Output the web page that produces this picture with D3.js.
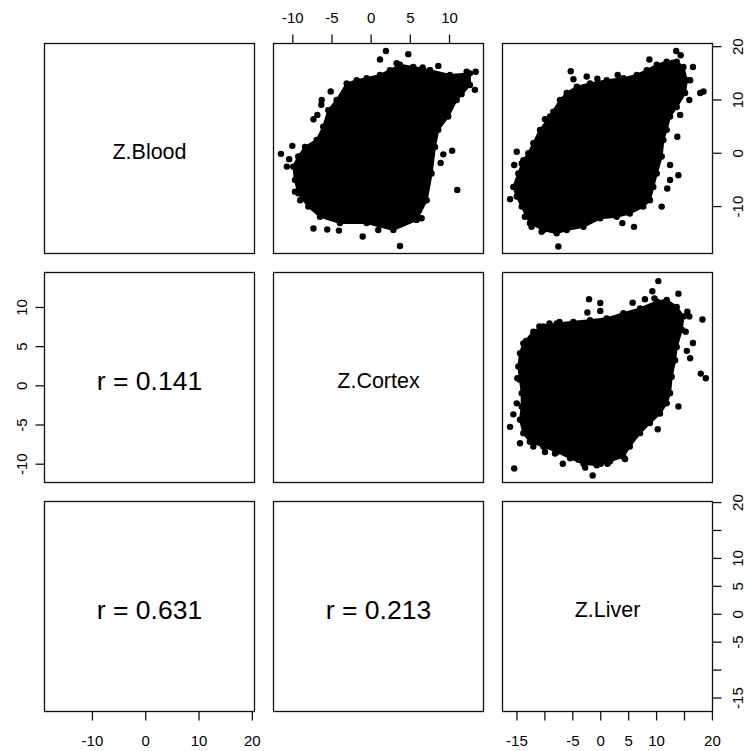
<!DOCTYPE html>
<html>
<head>
<meta charset="utf-8">
<script src="https://cdn.jsdelivr.net/npm/d3@7"></script>
<style>
  body { margin: 0; background: #fff; }
  text { font-family: "Liberation Sans", Arial, Helvetica, sans-serif; fill: #000; }
</style>
</head>
<body>
<div id="pairs"></div>
<script>
// Variables shown on the diagonal and their axis ranges
var varNames = ["Z.Blood", "Z.Cortex", "Z.Liver"];
var varDomains = [[-18.9, 20.5], [-12.4, 14.4], [-17.5, 20.1]];
var varTicks = [[-10, 0, 10, 20], [-10, -5, 0, 5, 10], [-15, -10, -5, 0, 5, 10, 15, 20]];
var varTickLabels = [["-10", "0", "10", "20"], ["-10", "-5", "0", "5", "10"],
                     ["-15", "", "-5", "0", "5", "10", "", "20"]];

// Lower panels: correlation text [row, col, r]
var corRows = [1, 2, 2];
var corCols = [0, 0, 1];
var corValues = [0.141, 0.631, 0.213];

// Upper panels: dense core outline + edge points, [x, y] in data units
// row 0, col 1 : x = Z.Cortex, y = Z.Blood
var cortexBloodCore = [[-3.06,13.0],[-4.34,9.9],[-5.41,8.0],[-6.05,4.9],[-6.89,2.4],[-8.38,1.1],[-9.24,-0.7],
  [-9.88,-2.6],[-9.66,-5.1],[-9.24,-7.6],[-7.96,-10.1],[-6.47,-12.0],[-3.92,-13.2],[-0.51,-13.2],[2.89,-14.5],
  [5.87,-12.6],[7.15,-8.9],[7.78,-3.9],[8.21,1.1],[8.63,4.3],[9.9,6.8],[10.97,9.9],[12.67,12.7],[12.67,14.9],
  [10.12,14.6],[7.57,15.5],[5.44,16.1],[3.74,16.5],[2.46,15.5],[1.19,14.6],[-0.51,14.0],[-1.79,13.6]];
var cortexBloodPts = [[1.95,19.1],[4.8,18.5],[1.19,17.5],[3.32,16.8],[6.64,16.0],[7.57,15.5],[8.63,16.3],
  [12.25,15.2],[13.4,15.2],[13.3,11.8],[11.6,11.0],[-5.1,11.5],[-6.25,9.9],[-6.3,9.0],[-7.3,6.3],[-6.8,7.1],
  [-10.0,1.3],[-11.45,-0.2],[-10.4,-1.2],[10.4,0.4],[9.27,-0.3],[8.93,-1.9],[11.05,-7.0],[-7.3,-14.2],
  [-5.54,-14.4],[-4.05,-14.6],[-1.02,-15.7],[3.74,-17.5],[6.5,-12.3],[0.97,-14.5],[-10.7,-2.6],[-9.66,-7.3],
  [-9.0,-8.9]];

// row 0, col 2 : x = Z.Liver, y = Z.Blood
var liverBloodCore = [[-11.98,1.8],[-10.78,4.3],[-8.99,6.8],[-7.2,9.9],[-6.0,11.2],[-4.2,12.4],[-1.83,13.0],
  [1.16,13.6],[4.14,14.0],[6.54,14.6],[8.33,15.5],[10.12,16.5],[11.9,17.1],[13.7,17.1],[14.9,16.1],[15.5,13.6],
  [15.2,11.2],[13.7,8.6],[12.5,6.8],[11.9,4.3],[11.3,2.4],[11.0,-0.7],[10.12,-3.9],[9.5,-6.4],[8.9,-8.9],
  [7.7,-10.1],[5.3,-11.4],[2.95,-12.0],[0.0,-12.3],[-3.0,-13.9],[-6.0,-14.5],[-7.8,-15.1],[-10.2,-14.5],
  [-12.6,-13.2],[-14.06,-10.1],[-14.95,-8.2],[-15.56,-6.4],[-14.66,-3.9],[-13.77,-1.4],[-12.87,-0.1]];
var liverBloodPts = [[-5.28,15.3],[-4.8,13.8],[-2.42,14.3],[-0.52,13.9],[3.13,14.6],[8.8,17.5],[13.0,16.9],
  [13.6,19.1],[14.4,18.3],[16.6,16.1],[16.1,13.6],[18.5,11.5],[17.9,11.2],[15.95,9.9],[14.3,7.1],[13.8,3.0],
  [14.0,-4.2],[12.5,-2.3],[12.5,-5.1],[12.0,-6.7],[11.0,-10.1],[-14.95,0.2],[-15.4,-2.3],[-14.06,-2.0],
  [-16.15,-8.7],[-13.5,-12.0],[-12.3,-13.9],[-10.5,-14.8],[-7.5,-17.6],[3.96,-13.2],[6.05,-13.9],
  [-9.9,6.3],[-10.78,3.3],[-8.4,7.7],[-7.07,8.5]];

// row 1, col 2 : x = Z.Liver, y = Z.Cortex
var liverCortexCore = [[-13.77,5.36],[-11.98,6.85],[-10.19,7.5],[-7.79,7.9],[-4.82,8.1],[-1.83,8.3],[1.16,8.55],
  [4.14,9.2],[7.13,9.8],[10.12,10.7],[11.9,10.9],[13.7,10.0],[14.9,8.8],[14.6,7.1],[13.7,4.9],[13.4,3.2],
  [12.8,1.1],[12.5,-1.0],[11.9,-2.3],[10.7,-3.6],[8.9,-4.8],[7.13,-6.1],[5.3,-7.8],[4.14,-9.1],[1.75,-9.7],
  [-0.63,-10.2],[-3.0,-10.0],[-5.4,-9.3],[-7.79,-8.5],[-10.19,-7.8],[-12.6,-7.2],[-13.77,-6.1],[-14.36,-4.4],
  [-14.06,-2.7],[-14.06,-1.0],[-14.36,0.7],[-14.66,2.4],[-14.36,4.1]];
var liverCortexPts = [[-2.0,11.0],[0.0,10.5],[-2.3,9.3],[0.0,9.5],[5.8,10.55],[10.4,13.3],[9.33,12.0],
  [9.7,11.1],[8.0,11.0],[14.0,11.7],[15.6,9.4],[15.95,8.8],[18.3,8.4],[15.3,6.85],[16.6,5.4],[15.5,4.4],
  [16.1,3.45],[18.0,1.5],[18.9,0.9],[14.0,-2.7],[10.3,-5.6],[-13.3,5.66],[-12.45,5.8],[-10.9,7.5],[-9.1,7.9],
  [-7.3,8.1],[-14.84,0.9],[-14.95,-2.3],[-15.56,-3.7],[-16.15,-5.3],[-14.36,-7.4],[-11.98,-7.8],[-9.9,-8.5],
  [-8.1,-8.7],[-6.7,-10.0],[-15.4,-10.6],[-3.9,-9.5],[-1.35,-11.5],[0.1,-10.0],[4.44,-9.4],[-2.7,-10.5],
  [1.3,-10.0]];

var scatterRows = [0, 0, 1];
var scatterCols = [1, 2, 2];
var scatterCores = [cortexBloodCore, liverBloodCore, liverCortexCore];
var scatterPts = [cortexBloodPts, liverBloodPts, liverCortexPts];

// Layout
var svgWidth = 749;
var svgHeight = 751;
var panelLeft = 44.5;
var panelTop = 43.5;
var panelSize = 210;
var panelGap = 19;
var tickLen = 9;

var svg = d3.select("#pairs")
  .append("svg")
  .attr("width", svgWidth)
  .attr("height", svgHeight);

function colX(j) { return panelLeft + j * (panelSize + panelGap); }
function rowY(i) { return panelTop + i * (panelSize + panelGap); }

function xScaleFor(j) {
  return d3.scaleLinear().domain(varDomains[j]).range([colX(j), colX(j) + panelSize]);
}
function yScaleFor(i) {
  return d3.scaleLinear().domain(varDomains[i]).range([rowY(i) + panelSize, rowY(i)]);
}

// Scatter panels
scatterRows.forEach(function(i, k) {
  var j = scatterCols[k];
  var x = xScaleFor(j);
  var y = yScaleFor(i);
  var g = svg.append("g");

  var line = d3.line()
    .x(d => x(d[0]))
    .y(d => y(d[1]))
    .curve(d3.curveLinearClosed);

  g.append("path")
    .attr("d", line(scatterCores[k]))
    .attr("fill", "#000")
    .attr("stroke", "#000")
    .attr("stroke-width", 2);

  g.selectAll("circle.edge")
    .data(scatterCores[k].concat(scatterPts[k]))
    .enter()
    .append("circle")
    .attr("cx", d => x(d[0]))
    .attr("cy", d => y(d[1]))
    .attr("r", 3.2)
    .attr("fill", "#000");
});

// Diagonal labels
varNames.forEach(function(name, i) {
  svg.append("text")
    .attr("x", colX(i) + panelSize / 2)
    .attr("y", rowY(i) + panelSize / 2 + 3)
    .attr("text-anchor", "middle")
    .attr("dominant-baseline", "central")
    .style("font-size", "21.5px")
    .text(name);
});

// Correlation text
corValues.forEach(function(r, k) {
  svg.append("text")
    .attr("x", colX(corCols[k]) + panelSize / 2)
    .attr("y", rowY(corRows[k]) + panelSize / 2 + 3)
    .attr("text-anchor", "middle")
    .attr("dominant-baseline", "central")
    .style("font-size", "26.5px")
    .text("r = " + r.toFixed(3));
});

// Panel boxes
for (var i = 0; i < 3; i++) {
  for (var j = 0; j < 3; j++) {
    svg.append("rect")
      .attr("x", colX(j))
      .attr("y", rowY(i))
      .attr("width", panelSize)
      .attr("height", panelSize)
      .attr("fill", "none")
      .attr("stroke", "#111")
      .attr("stroke-width", 1.3);
  }
}

// Axes, alternating sides like R's pairs()
function styleAxis(g) {
  g.select(".domain").remove();
  g.selectAll("line").attr("stroke", "#111").attr("stroke-width", 1.3);
  g.selectAll("text").style("font-size", "15px").attr("fill", "#000");
}

function makeAxis(axisFn, scale, v) {
  return axisFn(scale)
    .tickValues(varTicks[v])
    .tickFormat((d, n) => varTickLabels[v][n])
    .tickSize(tickLen);
}

// top axis for column 1
svg.append("g")
  .attr("transform", `translate(0, ${rowY(0)})`)
  .call(makeAxis(d3.axisTop, xScaleFor(1), 1))
  .call(styleAxis)
  .call(g => g.selectAll("text").attr("y", -26.5).attr("dy", null)
    .attr("dominant-baseline", "central"));

// bottom axes for columns 0 and 2
[0, 2].forEach(function(j) {
  svg.append("g")
    .attr("transform", `translate(0, ${rowY(2) + panelSize})`)
    .call(makeAxis(d3.axisBottom, xScaleFor(j), j))
    .call(styleAxis)
    .call(g => g.selectAll("text").attr("y", 28.5).attr("dy", null)
      .attr("dominant-baseline", "central"));
});

// left axis for row 1
svg.append("g")
  .attr("transform", `translate(${colX(0)}, 0)`)
  .call(makeAxis(d3.axisLeft, yScaleFor(1), 1))
  .call(styleAxis)
  .call(g => g.selectAll("text").attr("x", null).attr("dy", null)
    .attr("text-anchor", "middle")
    .attr("dominant-baseline", "central")
    .attr("transform", "translate(-23, 0) rotate(-90)"));

// right axes for rows 0 and 2
[0, 2].forEach(function(i) {
  svg.append("g")
    .attr("transform", `translate(${colX(2) + panelSize}, 0)`)
    .call(makeAxis(d3.axisRight, yScaleFor(i), i))
    .call(styleAxis)
    .call(g => g.selectAll("text").attr("x", null).attr("dy", null)
      .attr("text-anchor", "middle")
      .attr("dominant-baseline", "central")
      .attr("transform", "translate(24.5, 0) rotate(-90)"));
});
</script>
</body>
</html>
